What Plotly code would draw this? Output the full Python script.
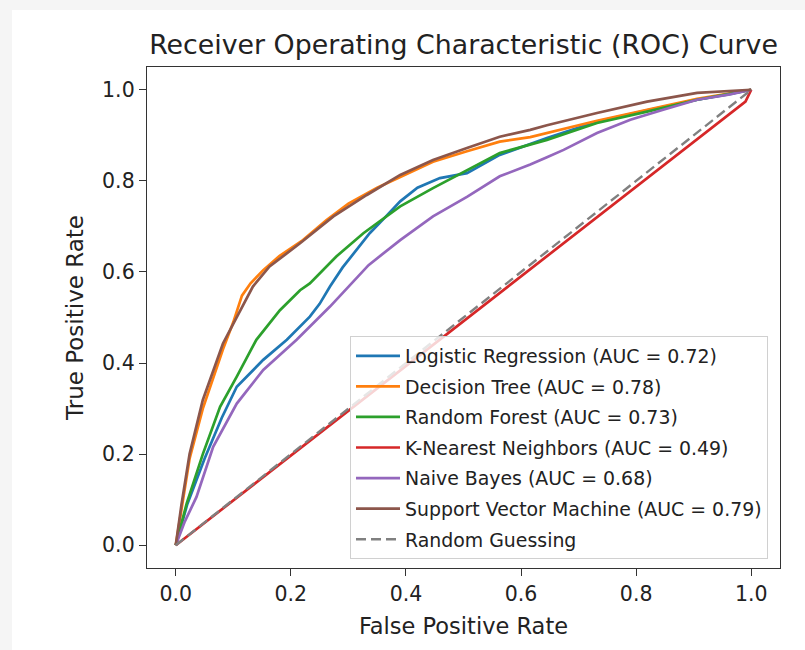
import plotly.graph_objects as go

# ---------------- data ----------------
lr_fpr = [0, 0.02, 0.05, 0.08, 0.106, 0.13, 0.152, 0.193, 0.216, 0.233, 0.25, 0.268, 0.29, 0.314, 0.337, 0.36, 0.39, 0.42, 0.459, 0.506, 0.563, 0.645, 0.732, 0.819, 0.906, 0.96, 1.0]
lr_tpr = [0, 0.09, 0.19, 0.28, 0.348, 0.38, 0.407, 0.451, 0.48, 0.502, 0.53, 0.568, 0.61, 0.648, 0.685, 0.715, 0.755, 0.785, 0.806, 0.817, 0.857, 0.894, 0.93, 0.955, 0.978, 0.99, 1.0]

dt_fpr = [0, 0.024, 0.047, 0.082, 0.1, 0.115, 0.13, 0.152, 0.18, 0.221, 0.262, 0.3, 0.35, 0.4, 0.447, 0.506, 0.563, 0.616, 0.645, 0.732, 0.819, 0.906, 1.0]
dt_tpr = [0, 0.19, 0.3, 0.43, 0.49, 0.548, 0.575, 0.604, 0.635, 0.67, 0.714, 0.75, 0.785, 0.815, 0.842, 0.865, 0.886, 0.896, 0.905, 0.932, 0.956, 0.98, 1.0]

rf_fpr = [0, 0.019, 0.047, 0.077, 0.106, 0.14, 0.181, 0.216, 0.233, 0.279, 0.326, 0.39, 0.447, 0.506, 0.563, 0.645, 0.732, 0.819, 0.906, 1.0]
rf_tpr = [0, 0.092, 0.2, 0.304, 0.37, 0.451, 0.516, 0.56, 0.575, 0.634, 0.685, 0.744, 0.784, 0.824, 0.861, 0.89, 0.927, 0.952, 0.978, 1.0]

knn_fpr = [0, 0.99, 1.0]
knn_tpr = [0, 0.974, 1.0]

nb_fpr = [0, 0.015, 0.036, 0.065, 0.106, 0.152, 0.21, 0.268, 0.335, 0.39, 0.447, 0.506, 0.563, 0.616, 0.645, 0.674, 0.732, 0.79, 0.847, 0.906, 0.963, 1.0]
nb_tpr = [0, 0.05, 0.106, 0.216, 0.311, 0.385, 0.451, 0.524, 0.615, 0.67, 0.722, 0.765, 0.81, 0.836, 0.852, 0.868, 0.905, 0.934, 0.956, 0.978, 0.99, 1.0]

svm_fpr = [0, 0.01, 0.024, 0.047, 0.082, 0.106, 0.134, 0.163, 0.216, 0.274, 0.332, 0.39, 0.447, 0.506, 0.563, 0.616, 0.645, 0.732, 0.819, 0.906, 1.0]
svm_tpr = [0, 0.09, 0.2, 0.319, 0.443, 0.502, 0.568, 0.612, 0.663, 0.722, 0.769, 0.813, 0.846, 0.872, 0.897, 0.912, 0.922, 0.949, 0.974, 0.993, 1.0]

model_names = ["Logistic Regression", "Decision Tree", "Random Forest",
               "K-Nearest Neighbors", "Naive Bayes", "Support Vector Machine"]
model_auc = [0.72, 0.78, 0.73, 0.49, 0.68, 0.79]
model_colors = ["#1f77b4", "#ff7f0e", "#2ca02c", "#d62728", "#9467bd", "#8c564b"]

guess_x = [0, 1]
guess_y = [0, 1]

tick_vals = [0.0, 0.2, 0.4, 0.6, 0.8, 1.0]
tick_text = ["0.0", "0.2", "0.4", "0.6", "0.8", "1.0"]

# ---------------- figure ----------------
W, H = 805, 650
L, R, T, B = 147, 25, 67, 82
PW, PH = W - L - R, H - T - B

def px_x(p):
    return (p - L) / PW

def px_y(p):
    return (H - B - p) / PH

FONT = "DejaVu Sans"
TXT = "#222222"

curves = [(lr_fpr, lr_tpr), (dt_fpr, dt_tpr), (rf_fpr, rf_tpr),
          (knn_fpr, knn_tpr), (nb_fpr, nb_tpr), (svm_fpr, svm_tpr)]

fig = go.Figure()
for i, ((xs, ys), name, auc, col) in enumerate(zip(curves, model_names, model_auc, model_colors)):
    fig.add_trace(go.Scatter(
        x=xs, y=ys, mode="lines",
        name=f"{name} (AUC = {auc:.2f})",
        line=dict(color=col, width=2.7),
        legendgroup=f"g{i}",
    ))
fig.add_trace(go.Scatter(
    x=guess_x, y=guess_y, mode="lines", name="Random Guessing",
    line=dict(color="#808080", width=2.4, dash="10px,5px"),
    legendgroup="g6",
))

axis_common = dict(
    range=[-0.05, 1.05], tickvals=tick_vals, ticktext=tick_text,
    ticks="outside", ticklen=7, tickwidth=1.3, tickcolor="#333333",
    showline=True, mirror=True, linecolor="#333333", linewidth=1.4,
    showgrid=False, zeroline=False,
    tickfont=dict(family=FONT, size=20.5, color=TXT),
    automargin=False,
)

fig.update_layout(
    width=W, height=H,
    margin=dict(l=L, r=R, t=T, b=B, pad=0),
    paper_bgcolor="#f5f5f5", plot_bgcolor="white",
    font=dict(family=FONT, color=TXT),
    title=dict(text="Receiver Operating Characteristic (ROC) Curve",
               x=0.5, xref="paper", xanchor="center",
               y=1 - 45 / H, yref="container", yanchor="middle",
               font=dict(family=FONT, size=26.8, color=TXT)),
    xaxis=dict(**axis_common,
               title=dict(text="False Positive Rate", standoff=13,
                          font=dict(family=FONT, size=22.5, color=TXT))),
    yaxis=dict(**axis_common,
               title=dict(text="True Positive Rate", standoff=12,
                          font=dict(family=FONT, size=23, color=TXT))),
    legend=dict(x=px_x(768), y=px_y(559), xanchor="right", yanchor="bottom",
                bgcolor="rgba(255,255,255,0.8)", bordercolor="#d0d0d0", borderwidth=1,
                font=dict(family=FONT, size=18.9, color=TXT),
                tracegroupgap=3, itemwidth=44, traceorder="grouped"),
    showlegend=True,
    shapes=[dict(type="rect", xref="paper", yref="paper", layer="below",
                 x0=px_x(12), x1=px_x(W + 5), y0=px_y(H + 5), y1=px_y(10),
                 fillcolor="white", line=dict(width=0))],
)

fig.write_html("out.html",
               config={"displayModeBar": False},
               post_script="document.body.style.margin='0';document.body.style.padding='0';")
